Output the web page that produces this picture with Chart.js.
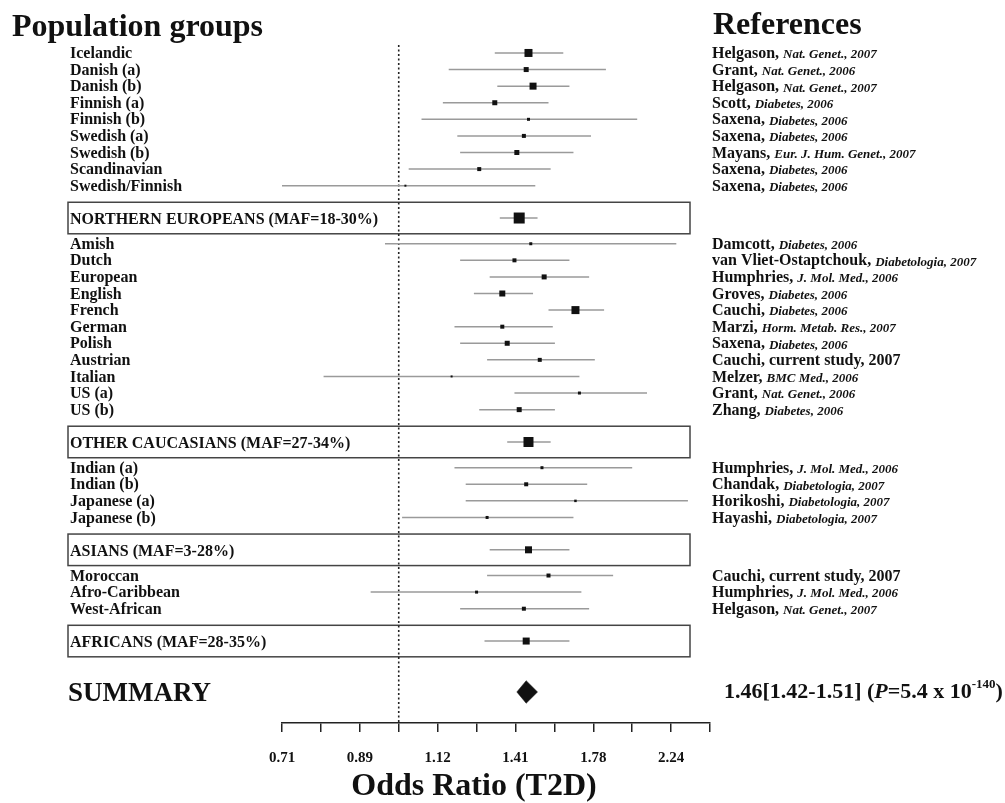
<!DOCTYPE html>
<html>
<head>
<meta charset="utf-8">
<script src="https://cdn.jsdelivr.net/npm/chart.js@4.4.1/dist/chart.umd.min.js"></script>
<style>
  html, body { margin: 0; padding: 0; background: #fff; }
  canvas { display: block; }
</style>
</head>
<body>
<canvas id="forestChart" width="1005" height="803"></canvas>
<script>
// Studies, in the order they appear (top to bottom)
const studyLabels = ['Icelandic', 'Danish (a)', 'Danish (b)', 'Finnish (a)', 'Finnish (b)', 'Swedish (a)', 'Swedish (b)', 'Scandinavian', 'Swedish/Finnish',
  'Amish', 'Dutch', 'European', 'English', 'French', 'German', 'Polish', 'Austrian', 'Italian', 'US (a)', 'US (b)',
  'Indian (a)', 'Indian (b)', 'Japanese (a)', 'Japanese (b)',
  'Moroccan', 'Afro-Caribbean', 'West-African'];
const studyOR = [1.47, 1.46, 1.49, 1.33, 1.47, 1.45, 1.42, 1.27, 1.02,
  1.48, 1.41, 1.54, 1.36, 1.69, 1.36, 1.38, 1.52, 1.17, 1.71, 1.43,
  1.53, 1.46, 1.69, 1.30,
  1.56, 1.26, 1.45];
const studyLower = [1.33, 1.16, 1.34, 1.14, 1.07, 1.19, 1.20, 1.03, 0.69,
  0.96, 1.20, 1.31, 1.25, 1.56, 1.18, 1.20, 1.30, 0.80, 1.41, 1.27,
  1.18, 1.22, 1.22, 1.01,
  1.30, 0.92, 1.20];
const studyUpper = [1.63, 1.85, 1.66, 1.56, 2.03, 1.77, 1.68, 1.57, 1.50,
  2.28, 1.66, 1.76, 1.49, 1.84, 1.58, 1.59, 1.79, 1.71, 2.09, 1.59,
  2.00, 1.75, 2.36, 1.68,
  1.89, 1.72, 1.76];
// relative study weight (square size)
const studyWeights = [8, 5, 7, 5, 3, 4, 5, 4, 2,
  3, 4, 5, 6, 8, 4, 5, 4, 2, 3, 5,
  3, 4, 2.5, 3,
  4, 3, 4];
const refAuthors = ['Helgason', 'Grant', 'Helgason', 'Scott', 'Saxena', 'Saxena', 'Mayans', 'Saxena', 'Saxena',
  'Damcott', 'van Vliet-Ostaptchouk', 'Humphries', 'Groves', 'Cauchi', 'Marzi', 'Saxena', 'Cauchi', 'Melzer', 'Grant', 'Zhang',
  'Humphries', 'Chandak', 'Horikoshi', 'Hayashi',
  'Cauchi', 'Humphries', 'Helgason'];
const refJournals = ['Nat. Genet.', 'Nat. Genet.', 'Nat. Genet.', 'Diabetes', 'Diabetes', 'Diabetes', 'Eur. J. Hum. Genet.', 'Diabetes', 'Diabetes',
  'Diabetes', 'Diabetologia', 'J. Mol. Med.', 'Diabetes', 'Diabetes', 'Horm. Metab. Res.', 'Diabetes', 'current study', 'BMC Med.', 'Nat. Genet.', 'Diabetes',
  'J. Mol. Med.', 'Diabetologia', 'Diabetologia', 'Diabetologia',
  'current study', 'J. Mol. Med.', 'Nat. Genet.'];
const refYears = [2007, 2006, 2007, 2006, 2006, 2006, 2007, 2006, 2006,
  2006, 2007, 2006, 2006, 2006, 2007, 2006, 2007, 2006, 2006, 2006,
  2006, 2007, 2007, 2007,
  2007, 2006, 2007];

// Pooled estimates per population group
const groupNames = ['NORTHERN EUROPEANS (MAF=18-30%)', 'OTHER CAUCASIANS (MAF=27-34%)', 'ASIANS (MAF=3-28%)', 'AFRICANS (MAF=28-35%)'];
const groupSizes = [9, 11, 4, 3];
const groupOR = [1.43, 1.47, 1.47, 1.46];
const groupLower = [1.35, 1.38, 1.31, 1.29];
const groupUpper = [1.51, 1.57, 1.66, 1.66];
const groupWeights = [11, 10, 7, 7];

// Overall summary
const summaryOR = 1.46;
const summaryLower = 1.42;
const summaryUpper = 1.51;
const summaryP = '5.4 x 10';
const summaryPExp = '-140';

// Axis ticks (2^(k/6)), labels on every other one
const tickValues = [0.7071, 0.7937, 0.8909, 1, 1.1225, 1.2599, 1.4142, 1.5874, 1.7818, 2, 2.2449, 2.5198];
const tickLabels = ['0.71', '', '0.89', '', '1.12', '', '1.41', '', '1.78', '', '2.24', ''];

// Row positions (one unit per study row)
const yMin = -0.48, yMax = 40.39;
const studyPos = [], groupPos = [];
let pos = 0;
groupSizes.forEach(n => {
  for (let i = 0; i < n; i++) { studyPos.push(pos); pos += 1; }
  pos += 0.95;
  groupPos.push(pos);
  pos += 1.55;
});
const summaryPos = groupPos[groupPos.length - 1] + 3.07;

const serif = '"Liberation Serif", "Times New Roman", serif';
const ciColor = '#9a9a9a';
const markColor = '#111';

// Build datasets
const squares = [];
studyOR.forEach((v, i) => squares.push({ x: v, y: studyPos[i], r: studyWeights[i] }));
groupOR.forEach((v, i) => squares.push({ x: v, y: groupPos[i], r: groupWeights[i] }));

const datasets = [{
  type: 'scatter',
  data: squares.map(p => ({ x: p.x, y: p.y })),
  pointStyle: 'rect',
  pointRadius: squares.map(p => p.r / Math.SQRT2),
  backgroundColor: markColor,
  borderWidth: 0
}, {
  // summary diamond
  type: 'line',
  data: [
    { x: summaryLower, y: summaryPos },
    { x: summaryOR, y: summaryPos - 0.68 },
    { x: summaryUpper, y: summaryPos },
    { x: summaryOR, y: summaryPos + 0.68 },
    { x: summaryLower, y: summaryPos }
  ],
  borderColor: markColor,
  backgroundColor: markColor,
  borderWidth: 0.5,
  pointRadius: 0,
  fill: 'shape',
  tension: 0
}];

studyOR.forEach((v, i) => datasets.push({
  type: 'line',
  data: [{ x: studyLower[i], y: studyPos[i] }, { x: studyUpper[i], y: studyPos[i] }],
  borderColor: ciColor, borderWidth: 1.5, pointRadius: 0
}));
groupOR.forEach((v, i) => datasets.push({
  type: 'line',
  data: [{ x: groupLower[i], y: groupPos[i] }, { x: groupUpper[i], y: groupPos[i] }],
  borderColor: ciColor, borderWidth: 1.5, pointRadius: 0
}));

// line of no effect
datasets.push({
  type: 'line',
  data: [{ x: 1, y: yMin }, { x: 1, y: yMax }],
  borderColor: '#222', borderWidth: 1.6, borderDash: [2, 2.5], pointRadius: 0
});

const textPlugin = {
  id: 'forestText',
  beforeDatasetsDraw(chart) {
    const ctx = chart.ctx, y = chart.scales.y;
    ctx.save();
    ctx.strokeStyle = '#444';
    ctx.lineWidth = 1.5;
    groupPos.forEach(p => {
      const top = y.getPixelForValue(p - 0.95), bot = y.getPixelForValue(p + 0.95);
      ctx.strokeRect(68, top, 622, bot - top);
    });
    ctx.restore();
  },
  afterDraw(chart) {
    const ctx = chart.ctx, y = chart.scales.y;
    ctx.save();
    ctx.fillStyle = '#111';
    ctx.textBaseline = 'alphabetic';
    ctx.textAlign = 'left';

    // headings
    ctx.font = 'bold 32px ' + serif;
    ctx.fillText('Population groups', 12, 36);
    ctx.fillText('References', 713, 34);

    // study names and references
    ctx.textBaseline = 'middle';
    studyLabels.forEach((lab, i) => {
      const py = y.getPixelForValue(studyPos[i]) + 1;
      ctx.font = 'bold 16px ' + serif;
      ctx.fillText(lab, 70, py);
      let x = 712;
      const head = refAuthors[i] + ', ';
      ctx.fillText(head, x, py);
      x += ctx.measureText(head).width;
      if (refJournals[i] === 'current study') {
        ctx.fillText(refJournals[i] + ', ' + refYears[i], x, py);
      } else {
        ctx.font = 'italic bold 13px ' + serif;
        ctx.fillText(refJournals[i] + ', ' + refYears[i], x, py + 1);
      }
    });

    // group labels
    ctx.font = 'bold 16px ' + serif;
    groupNames.forEach((g, i) => {
      ctx.fillText(g, 70, y.getPixelForValue(groupPos[i]) + 2);
    });

    // summary row
    const sy = y.getPixelForValue(summaryPos);
    ctx.font = 'bold 27px ' + serif;
    ctx.fillText('SUMMARY', 68, sy + 2);

    let x = 724;
    const part = (txt, font, dy) => {
      ctx.font = font;
      ctx.fillText(txt, x, sy + (dy || 0));
      x += ctx.measureText(txt).width;
    };
    part(summaryOR.toFixed(2) + '[' + summaryLower.toFixed(2) + '-' + summaryUpper.toFixed(2) + '] (', 'bold 22px ' + serif);
    part('P', 'italic bold 22px ' + serif);
    part('=' + summaryP, 'bold 22px ' + serif);
    part(summaryPExp, 'bold 13px ' + serif, -7);
    part(')', 'bold 22px ' + serif);

    // axis title
    ctx.textAlign = 'center';
    ctx.font = 'bold 32px ' + serif;
    ctx.fillText('Odds Ratio (T2D)', 474, 787);
    ctx.restore();
  }
};

new Chart(document.getElementById('forestChart'), {
  type: 'scatter',
  data: { datasets: datasets },
  options: {
    responsive: false,
    animation: false,
    layout: { padding: { left: 282, right: 295, top: 45, bottom: 40 } },
    plugins: { legend: { display: false }, tooltip: { enabled: false } },
    scales: {
      x: {
        type: 'logarithmic',
        min: tickValues[0],
        max: tickValues[tickValues.length - 1],
        bounds: 'data',
        afterBuildTicks: s => { s.ticks = tickValues.map(v => ({ value: v })); },
        afterFit: s => { s.height = 40; },
        grid: { drawOnChartArea: false, tickLength: 9, color: '#222', lineWidth: 1.5 },
        border: { display: true, color: '#222', width: 1.5 },
        ticks: {
          autoSkip: false,
          maxRotation: 0,
          padding: 17,
          color: '#111',
          font: { family: serif, size: 15, weight: 'bold' },
          callback: (v, i) => tickLabels[i]
        }
      },
      y: { type: 'linear', reverse: true, min: yMin, max: yMax, display: false }
    }
  },
  plugins: [textPlugin]
});
</script>
</body>
</html>
